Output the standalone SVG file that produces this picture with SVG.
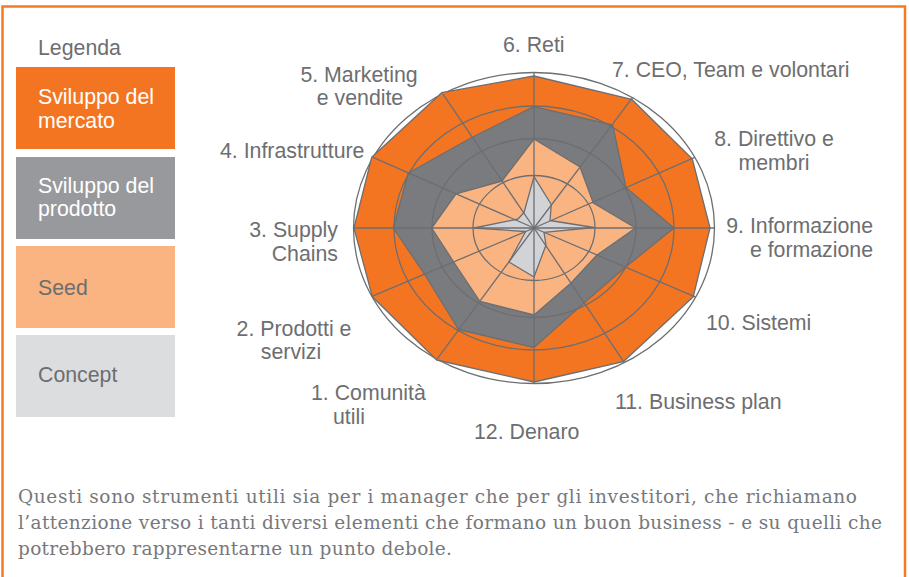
<svg xmlns="http://www.w3.org/2000/svg" width="909" height="577" viewBox="0 0 909 577">
<style>
.lbl{font-family:"Liberation Sans",Arial,sans-serif;font-size:21.3px;fill:#6d6e71}
.lw{font-family:"Liberation Sans",Arial,sans-serif;font-size:21.3px;fill:#ffffff}
.para{font-family:"DejaVu Serif","Liberation Serif",serif;font-size:18.5px;fill:#77787b}
.ln{fill:none;stroke:#6d6e71;stroke-width:1.3}
.poly{stroke:#6d6e71;stroke-width:1.3;stroke-linejoin:round}
</style>
<rect x="0" y="0" width="909" height="577" fill="#ffffff"/>
<rect x="2.5" y="6.5" width="902.5" height="640" fill="none" stroke="#f47a25" stroke-width="2.5"/>

<g id="legend">
<text class="lbl" x="38" y="55">Legenda</text>
<g id="leg-mercato">
<rect x="16" y="67" width="159" height="82" fill="#f47521"/>
<text class="lw" x="38" y="104">Sviluppo del</text>
<text class="lw" x="38" y="128">mercato</text>
</g>
<g id="leg-prodotto">
<rect x="16" y="157" width="159" height="82" fill="#98999c"/>
<text class="lw" x="38" y="193">Sviluppo del</text>
<text class="lw" x="38" y="216">prodotto</text>
</g>
<g id="leg-seed">
<rect x="16" y="246" width="159" height="82" fill="#fab482"/>
<text class="lbl" x="38" y="295">Seed</text>
</g>
<g id="leg-concept">
<rect x="16" y="335" width="159" height="82" fill="#dcdddf"/>
<text class="lbl" x="38" y="382">Concept</text>
</g>
</g>

<g id="chart">
<ellipse class="ln" cx="534" cy="228" rx="180.5" ry="155.5"/>
<polygon id="mercato" class="poly" fill="#f47521" points="534,76 631.7,99.3 692.3,159 710,228 693.3,296.7 623.3,361.7 534,382 436.7,360 372.3,296.7 354,228 371.7,157.3 441.7,92.7"/>
<polygon id="prodotto" class="poly" fill="#7a7b7e" points="534,106.7 612.7,125 626,187.5 674,228 625,267.5 584,303 534,347.5 458.5,329.5 425,275 393.3,228 408.3,173 471.7,137.5"/>
<polygon id="seed" class="poly" fill="#fab482" points="534,139 580,167 593.3,203 635.5,228 597,255 571,283 534,315 480,301.5 453.7,262 431.7,228 456,193.8 502,181"/>
<polygon id="concept" class="poly" fill="#d2d3d6" points="534,176.7 551.3,204.5 550,220.5 594,227.5 544,232.3 546,245 534,277 509,262 525.7,231.5 474,228 518,219 524,212.5"/>
<g id="rings">
<ellipse class="ln" cx="534" cy="228" rx="61" ry="52.5"/>
<ellipse class="ln" cx="534" cy="228" rx="102" ry="89.5"/>
<ellipse class="ln" cx="534" cy="228" rx="140" ry="122"/>
</g>
<g id="connectors">
<line class="ln" x1="534" y1="228" x2="534" y2="72.5"/>
<line class="ln" x1="534" y1="228" x2="632.5" y2="97.7"/>
<line class="ln" x1="534" y1="228" x2="694.8" y2="157.4"/>
<line class="ln" x1="534" y1="228" x2="714.5" y2="228"/>
<line class="ln" x1="534" y1="228" x2="695.7" y2="297.2"/>
<line class="ln" x1="534" y1="228" x2="624.3" y2="362.7"/>
<line class="ln" x1="534" y1="228" x2="534" y2="383.5"/>
<line class="ln" x1="534" y1="228" x2="437" y2="359.1"/>
<line class="ln" x1="534" y1="228" x2="371.9" y2="296.4"/>
<line class="ln" x1="534" y1="228" x2="353.5" y2="228"/>
<line class="ln" x1="534" y1="228" x2="373.1" y2="157.4"/>
<line class="ln" x1="534" y1="228" x2="442.8" y2="93.8"/>
</g>
</g>

<g id="labels">
<text class="lbl" x="503" y="52">6. Reti</text>
<text class="lbl" x="612" y="77">7. CEO, Team e volontari</text>
<text class="lbl" x="774" y="146" text-anchor="middle">8. Direttivo e</text>
<text class="lbl" x="774" y="170" text-anchor="middle">membri</text>
<text class="lbl" x="873" y="233" text-anchor="end">9. Informazione</text>
<text class="lbl" x="873" y="257" text-anchor="end">e formazione</text>
<text class="lbl" x="706" y="330">10. Sistemi</text>
<text class="lbl" x="615" y="409">11. Business plan</text>
<text class="lbl" x="474" y="439">12. Denaro</text>
<text class="lbl" x="311" y="400">1. Comunità</text>
<text class="lbl" x="333" y="424">utili</text>
<text class="lbl" x="294" y="336" text-anchor="middle">2. Prodotti e</text>
<text class="lbl" x="291" y="359" text-anchor="middle">servizi</text>
<text class="lbl" x="338" y="237" text-anchor="end">3. Supply</text>
<text class="lbl" x="338" y="261" text-anchor="end">Chains</text>
<text class="lbl" x="220" y="158">4. Infrastrutture</text>
<text class="lbl" x="359" y="82" text-anchor="middle">5. Marketing</text>
<text class="lbl" x="360" y="105" text-anchor="middle">e vendite</text>
</g>

<g id="caption">
<text class="para" x="18" y="503" textLength="839" lengthAdjust="spacing">Questi sono strumenti utili sia per i manager che per gli investitori, che richiamano</text>
<text class="para" x="18" y="529" textLength="864" lengthAdjust="spacing">l’attenzione verso i tanti diversi elementi che formano un buon business - e su quelli che</text>
<text class="para" x="18" y="555" textLength="434" lengthAdjust="spacing">potrebbero rappresentarne un punto debole.</text>
</g>
</svg>
